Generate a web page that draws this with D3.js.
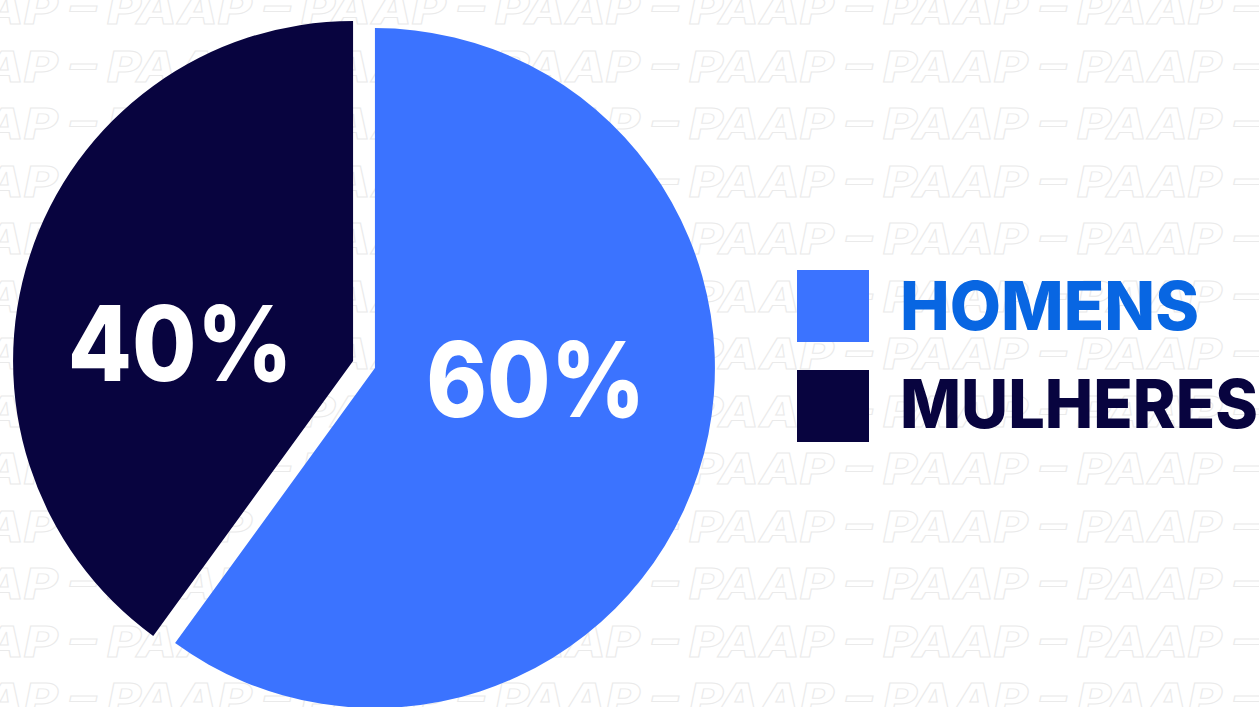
<!DOCTYPE html>
<html>
<head>
<meta charset="utf-8">
<script src="https://cdn.jsdelivr.net/npm/d3@7"></script>
<style>
  html, body { margin: 0; padding: 0; background: #ffffff; }
  svg { display: block; }
  .watermark text { white-space: pre; }
</style>
</head>
<body>
<svg id="chart" width="1259" height="707"></svg>
<script>
// ---- data ----
const categories = ["HOMENS", "MULHERES"];
const values = [60, 40];
const valueLabels = ["60%", "40%"];
const sliceColors = ["#3b73ff", "#08043f"];
const legendTextColors = ["#0866e2", "#08043f"];
const watermarkText = "PAAP \u2013 ";

const W = 1259, H = 707;
const svg = d3.select("#chart");

// ---- watermark pattern ----
const wm = svg.append("g").attr("class", "watermark");
const rowStep = 57.5, colStep = 194;
for (let r = 0; r < 14; r++) {
  const y = 24 + r * rowStep;
  for (let c = -1; c < 7; c++) {
    wm.append("text")
      .attr("xml:space", "preserve")
      .attr("x", 107 + c * colStep)
      .attr("y", y)
      .attr("font-family", "Inter, 'DejaVu Sans', sans-serif")
      .attr("font-weight", 800)
      .attr("font-style", "italic")
      .attr("font-size", 42)
      .attr("fill", "none")
      .attr("stroke", "#eaeaea")
      .attr("stroke-width", 0.9)
      .attr("textLength", 194)
      .attr("lengthAdjust", "spacingAndGlyphs")
      .text(watermarkText);
  }
}

// ---- pie ----
const cx = 364, cy = 364.5, R = 340, explode = 11.5;
const pie = d3.pie().sort(null).value(d => d)(values);
const arc = d3.arc().innerRadius(0).outerRadius(R);
const g = svg.append("g").attr("transform", `translate(${cx},${cy})`);

const slices = g.selectAll("g.slice").data(pie).enter().append("g")
  .attr("class", "slice")
  .attr("transform", d => {
    const a = (d.startAngle + d.endAngle) / 2;
    return `translate(${Math.sin(a) * explode},${-Math.cos(a) * explode})`;
  });

slices.append("path")
  .attr("d", arc)
  .attr("fill", (d, i) => sliceColors[i]);

const labelArc = d3.arc().innerRadius(178).outerRadius(178);
const labelFont = 104, labelCap = labelFont * 0.727;
const labelLengths = [219, 225];
slices.append("text")
  .attr("x", d => labelArc.centroid(d)[0] * 0.95 - (d.index === 1 ? 12 : 0))
  .attr("y", d => labelArc.centroid(d)[1] * 0.2 + labelCap / 2 - (d.index === 1 ? 7 : 0))
  .attr("text-anchor", "middle")
  .attr("font-family", "Inter, 'DejaVu Sans', sans-serif")
  .attr("font-weight", 800)
  .attr("font-size", labelFont)
  .attr("fill", "#ffffff")
  .attr("textLength", (d, i) => labelLengths[i])
  .attr("lengthAdjust", "spacingAndGlyphs")
  .text((d, i) => valueLabels[i]);

// ---- legend ----
const legend = svg.append("g").attr("transform", "translate(797,270)");
const legendStep = 100, box = 72;
const legendWidths = [299, 358];
const items = legend.selectAll("g.item").data(categories).enter().append("g")
  .attr("class", "item")
  .attr("transform", (d, i) => `translate(0,${i * legendStep})`);
items.append("rect")
  .attr("width", box).attr("height", box)
  .attr("fill", (d, i) => sliceColors[i]);
items.append("text")
  .attr("x", 103)
  .attr("y", (d, i) => i === 0 ? 60 : 58)
  .attr("font-family", "Inter, 'DejaVu Sans', sans-serif")
  .attr("font-weight", 800)
  .attr("font-size", 67)
  .attr("fill", (d, i) => legendTextColors[i])
  .attr("textLength", (d, i) => legendWidths[i])
  .attr("lengthAdjust", "spacingAndGlyphs")
  .text(d => d);
</script>
</body>
</html>
